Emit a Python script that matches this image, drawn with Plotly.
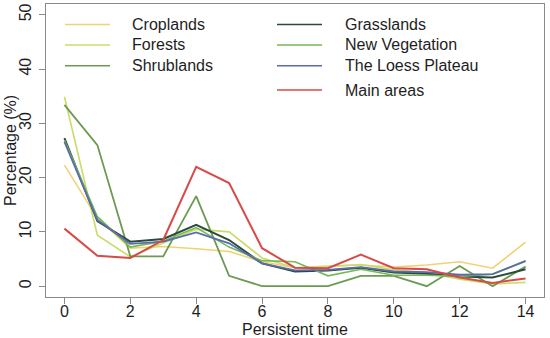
import plotly.graph_objects as go

# ---- data ----
persistent_time = list(range(15))
series_names = ["Croplands", "Forests", "Shrublands", "Grasslands",
                "New Vegetation", "The Loess Plateau", "Main areas"]
croplands = [22.3, 12.5, 7.0, 7.3, 6.9, 6.4, 4.5, 3.4, 3.7, 3.9, 3.5, 3.9, 4.5, 3.3, 8.1]
forests = [34.9, 9.4, 5.4, 8.0, 10.5, 10.0, 5.2, 3.4, 3.6, 4.0, 3.0, 2.5, 1.3, 0.4, 0.7]
shrublands = [33.4, 26.0, 5.5, 5.5, 16.6, 1.9, 0.0, 0.0, 0.0, 1.9, 1.9, 0.0, 3.7, 0.0, 3.6]
grasslands = [27.3, 12.0, 8.2, 8.7, 11.3, 8.5, 4.2, 2.7, 2.9, 3.4, 2.5, 2.3, 1.8, 1.6, 3.1]
new_vegetation = [26.9, 12.8, 7.2, 8.3, 10.8, 7.2, 4.7, 4.5, 1.9, 3.1, 2.0, 2.0, 1.8, 2.2, 4.7]
loess_plateau = [26.6, 12.2, 7.8, 8.2, 9.9, 7.9, 4.2, 2.9, 3.0, 3.5, 2.7, 2.6, 2.1, 2.2, 4.6]
main_areas = [10.6, 5.6, 5.2, 8.5, 22.0, 19.0, 7.0, 3.4, 3.3, 5.8, 3.3, 3.1, 1.6, 0.6, 1.4]
x_ticks = [0, 2, 4, 6, 8, 10, 12, 14]
y_ticks = [0, 10, 20, 30, 40, 50]
x_title = "Persistent time"
y_title = "Percentage (%)"

series_values = [croplands, forests, shrublands, grasslands,
                 new_vegetation, loess_plateau, main_areas]
colors = ["#f0d274", "#c9dc6a", "#6b9a52", "#2c4a3b", "#74b957", "#5a6cab", "#d84a48"]
widths = [1.6, 1.6, 1.8, 2.0, 1.6, 1.8, 2.0]

fig = go.Figure()
for name, vals, c, w in zip(series_names, series_values, colors, widths):
    fig.add_trace(go.Scatter(x=persistent_time, y=vals, mode="lines", name=name,
                             line=dict(color=c, width=w), showlegend=False))

FONT = "Liberation Sans, Arial, sans-serif"
TXT = "#1e1e1e"
GREY = "#8a8a8a"

# plot area in pixels: x 46..544, y 4..297
L, R, T, B = 46, 544, 4, 297
def px(xp):
    return (xp - L) / (R - L)
def py(yp):
    return (B - yp) / (B - T)

# manual two-column legend (column-major like the reference)
cols = [(65, 110, 130), (277, 322, 343)]
rows = [24.5, 45.0, 65.7, 90.0]
slots = [(0, 0), (0, 1), (0, 2), (1, 0), (1, 1), (1, 2), (1, 3)]
for (ci, ri), name, c in zip(slots, series_names, colors):
    x0, x1, xt = cols[ci]
    yy = rows[ri]
    fig.add_shape(type="line", xref="paper", yref="paper",
                  x0=px(x0), x1=px(x1), y0=py(yy), y1=py(yy),
                  line=dict(color=c, width=1.6))
    fig.add_annotation(xref="paper", yref="paper", x=px(xt), y=py(yy),
                       text=name, showarrow=False, xanchor="left", yanchor="middle",
                       font=dict(family=FONT, size=16, color=TXT))

# axis titles
fig.add_annotation(xref="paper", yref="paper", x=px(295), y=py(329), text=x_title,
                   showarrow=False, xanchor="center", yanchor="middle",
                   font=dict(family=FONT, size=16, color=TXT))
fig.add_annotation(xref="paper", yref="paper", x=px(10), y=py(151), text=y_title,
                   showarrow=False, xanchor="center", yanchor="middle", textangle=-90,
                   font=dict(family=FONT, size=16, color=TXT))

fig.update_layout(
    width=550, height=338,
    margin=dict(l=L, r=550 - R, t=T, b=338 - B),
    paper_bgcolor="white", plot_bgcolor="white",
    font=dict(family=FONT, size=16, color=TXT),
)
fig.update_xaxes(range=[-0.56, 14.56], tickvals=x_ticks, ticks="outside", ticklen=6,
                 tickcolor=GREY, showgrid=False, zeroline=False, automargin=False,
                 showline=True, linecolor=GREY, linewidth=1, mirror=True,
                 tickfont=dict(size=16, color=TXT), ticklabelstandoff=-6)
fig.update_yaxes(range=[-2, 52], tickvals=y_ticks, ticks="outside", ticklen=6,
                 tickcolor=GREY, showgrid=False, zeroline=False, automargin=False,
                 showline=True, linecolor=GREY, linewidth=1, mirror=True,
                 tickangle=-90, tickfont=dict(size=16, color=TXT), ticklabelstandoff=2)

fig.write_html("out.html", config={"displayModeBar": False},
               post_script="document.body.style.margin='0';document.body.style.padding='0';")
